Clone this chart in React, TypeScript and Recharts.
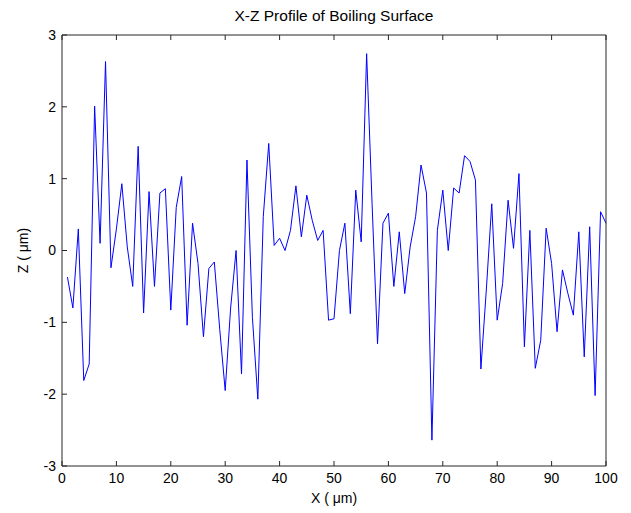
import { LineChart, Line, XAxis, YAxis, Label } from 'recharts';

// surface height (um) sampled at X = 1..100 um
const zValues = [
  -0.37, -0.8, 0.3, -1.81, -1.58, 2.01, 0.1, 2.63, -0.24, 0.3,
  0.93, 0.05, -0.5, 1.45, -0.87, 0.82, -0.5, 0.8, 0.86, -0.83,
  0.6, 1.03, -1.04, 0.38, -0.18, -1.2, -0.25, -0.16, -1.1, -1.95,
  -0.8, 0.0, -1.72, 1.26, -0.93, -2.07, 0.47, 1.49, 0.07, 0.17,
  0.0, 0.28, 0.9, 0.19, 0.77, 0.42, 0.14, 0.28, -0.97, -0.95,
  0.0, 0.38, -0.88, 0.84, 0.12, 2.74, 0.65, -1.3, 0.38, 0.52,
  -0.5, 0.26, -0.6, 0.05, 0.47, 1.19, 0.8, -2.64, 0.28, 0.84,
  0.0, 0.87, 0.8, 1.32, 1.24, 0.98, -1.65, -0.55, 0.65, -0.97,
  -0.46, 0.7, 0.03, 1.07, -1.34, 0.28, -1.64, -1.25, 0.31, -0.18,
  -1.13, -0.27, -0.6, -0.9, 0.26, -1.48, 0.33, -2.02, 0.54, 0.38,
];

const xTicks = [0, 10, 20, 30, 40, 50, 60, 70, 80, 90, 100];
const yTicks = [-3, -2, -1, 0, 1, 2, 3];

const title = 'X-Z Profile of Boiling Surface';
const xLabel = 'X ( \u03bcm)';
const yLabel = 'Z ( \u03bcm)';

const font = '"Liberation Sans", Arial, sans-serif';
const axisColor = '#262626';

// top / right axes only carry the inward tick marks of the box
const NoLabel = () => <g />;

export default function App() {
  const data = zValues.map((z, i) => ({ x: i + 1, z }));

  return (
    <div style={{ position: 'absolute', left: 0, top: 0, width: 631, height: 513, background: '#fff', fontFamily: font }}>
      <LineChart width={631} height={513} data={data} margin={{ top: 34, right: 24, bottom: 0, left: 0 }}>
        <XAxis
          xAxisId="bottom"
          dataKey="x"
          type="number"
          domain={[0, 100]}
          ticks={xTicks}
          interval={0}
          height={47}
          tickSize={-5}
          tickMargin={12}
          stroke={axisColor}
          tick={{ fill: '#000', fontSize: 14, fontFamily: font }}
        >
          <Label value={xLabel} position="insideBottom" offset={10} fill="#000" fontSize={14} fontFamily={font} />
        </XAxis>
        <XAxis
          xAxisId="top"
          orientation="top"
          dataKey="x"
          type="number"
          domain={[0, 100]}
          ticks={xTicks}
          interval={0}
          height={1}
          tickSize={-5}
          tick={NoLabel}
          stroke={axisColor}
        >
          <Label value={title} position="top" offset={13} fill="#000" fontSize={15.5} fontFamily={font} />
        </XAxis>
        <YAxis
          yAxisId="left"
          type="number"
          domain={[-3, 3]}
          ticks={yTicks}
          interval={0}
          width={62}
          tickSize={-5}
          tickMargin={11}
          stroke={axisColor}
          tick={{ fill: '#000', fontSize: 14, fontFamily: font }}
        >
          <Label
            value={yLabel}
            angle={-90}
            position="insideLeft"
            offset={23}
            fill="#000"
            fontSize={14}
            fontFamily={font}
            style={{ textAnchor: 'middle' }}
          />
        </YAxis>
        <YAxis
          yAxisId="right"
          orientation="right"
          type="number"
          domain={[-3, 3]}
          ticks={yTicks}
          interval={0}
          width={1}
          tickSize={-5}
          tick={NoLabel}
          stroke={axisColor}
        />
        <Line
          xAxisId="bottom"
          yAxisId="left"
          type="linear"
          dataKey="z"
          stroke="#0000ff"
          strokeWidth={1}
          dot={false}
          activeDot={false}
          isAnimationActive={false}
        />
      </LineChart>
    </div>
  );
}
